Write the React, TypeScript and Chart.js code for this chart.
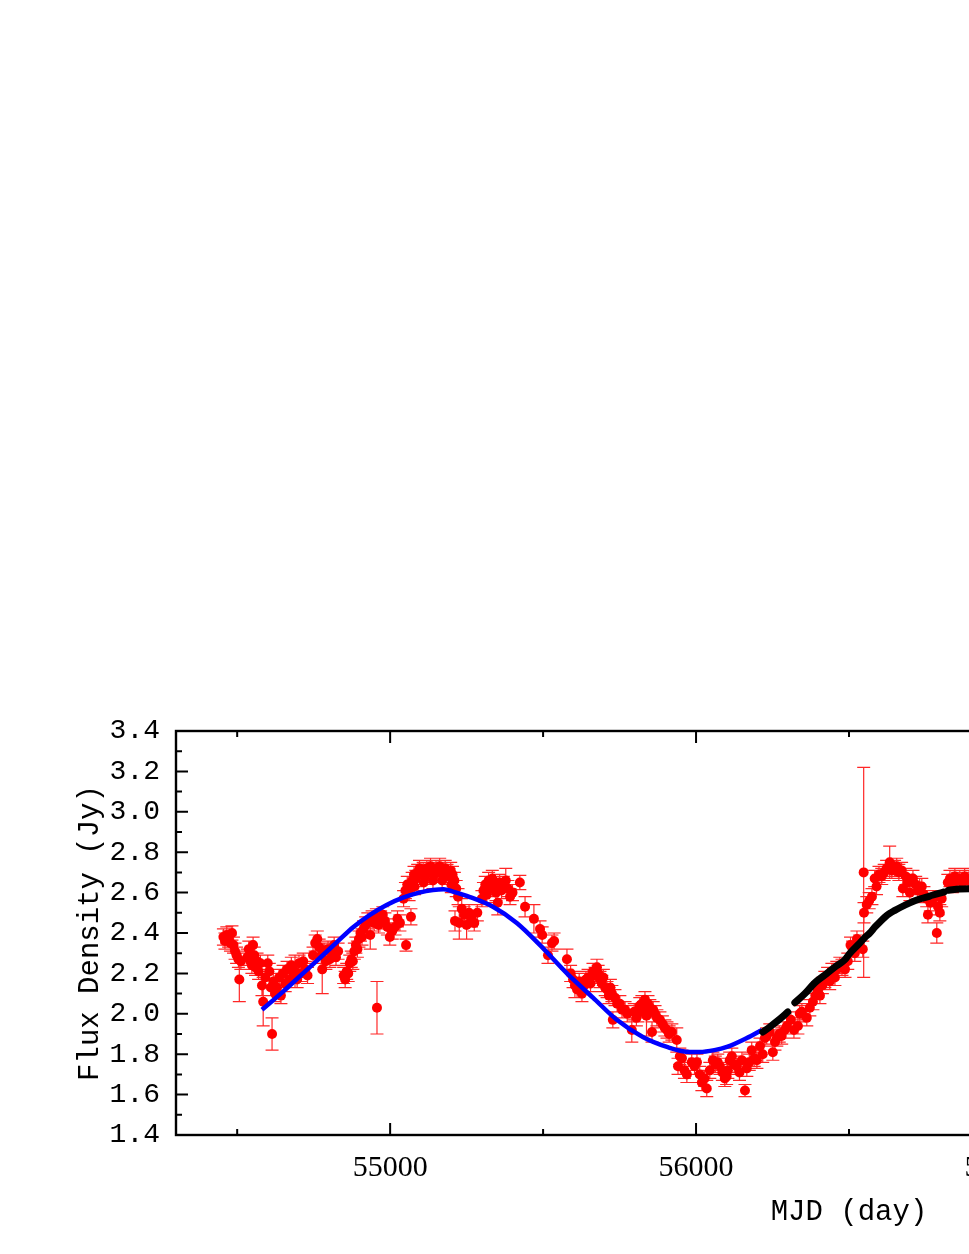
import { useEffect, useRef } from 'react';
import { Chart, registerables } from 'chart.js';

Chart.register(...registerables);

// ---------- data ----------
const xMajorTicks = [55000, 56000, 57000, 58000];
const xMinorTicks = [54500, 55500, 56500, 57500, 58500];
const yMajorTicks = [1.4, 1.6, 1.8, 2.0, 2.2, 2.4, 2.6, 2.8, 3.0, 3.2, 3.4];
const yMinorTicks = [1.5, 1.7, 1.9, 2.1, 2.3, 2.5, 2.7, 2.9, 3.1, 3.3];

// observed flux: [MJD, flux (Jy), error (Jy)]
const observed: [number, number, number][] = [
  [54455, 2.38, 0.04], [54460, 2.36, 0.04], [54466, 2.39, 0.04], [54472, 2.37, 0.04],
  [54478, 2.35, 0.04], [54483, 2.40, 0.035], [54488, 2.34, 0.04], [54493, 2.31, 0.04],
  [54498, 2.29, 0.04], [54504, 2.27, 0.04], [54507, 2.17, 0.11], [54512, 2.26, 0.04],
  [54533, 2.28, 0.04], [54538, 2.32, 0.04], [54543, 2.26, 0.04], [54548, 2.24, 0.04],
  [54552, 2.34, 0.04], [54556, 2.29, 0.04], [54560, 2.23, 0.04], [54565, 2.26, 0.04],
  [54570, 2.21, 0.04],
  [54576, 2.25, 0.04], [54581, 2.14, 0.05], [54585, 2.06, 0.12], [54592, 2.18, 0.04],
  [54600, 2.25, 0.04], [54605, 2.21, 0.04], [54610, 2.13, 0.04], [54614, 1.90, 0.08],
  [54618, 2.16, 0.04], [54624, 2.10, 0.04], [54630, 2.13, 0.04], [54637, 2.18, 0.04],
  [54643, 2.09, 0.04],
  [54650, 2.20, 0.04], [54657, 2.15, 0.04], [54663, 2.22, 0.04], [54670, 2.17, 0.04],
  [54677, 2.24, 0.04], [54684, 2.20, 0.04], [54689, 2.21, 0.08], [54696, 2.17, 0.04],
  [54702, 2.25, 0.04], [54709, 2.20, 0.04], [54716, 2.26, 0.04], [54723, 2.22, 0.04],
  [54730, 2.19, 0.04],
  [54748, 2.29, 0.04], [54755, 2.35, 0.04], [54762, 2.37, 0.04], [54768, 2.33, 0.04],
  [54775, 2.29, 0.04], [54778, 2.22, 0.12], [54784, 2.31, 0.04], [54790, 2.26, 0.04],
  [54797, 2.32, 0.04], [54803, 2.27, 0.04], [54810, 2.30, 0.04], [54817, 2.34, 0.04],
  [54823, 2.28, 0.04], [54830, 2.31, 0.04],
  [54848, 2.19, 0.04], [54853, 2.17, 0.04], [54858, 2.21, 0.04], [54863, 2.20, 0.04],
  [54868, 2.25, 0.04], [54873, 2.27, 0.04], [54878, 2.26, 0.04], [54883, 2.31, 0.04],
  [54888, 2.34, 0.04], [54893, 2.32, 0.04], [54898, 2.37, 0.04], [54903, 2.40, 0.04],
  [54908, 2.38, 0.04], [54913, 2.42, 0.04],
  [54920, 2.44, 0.04], [54927, 2.46, 0.04], [54935, 2.39, 0.07], [54941, 2.47, 0.04],
  [54948, 2.45, 0.04], [54955, 2.48, 0.04], [54957, 2.03, 0.13], [54962, 2.44, 0.04],
  [54969, 2.47, 0.04], [54976, 2.49, 0.04], [54983, 2.46, 0.04], [54991, 2.43, 0.04],
  [54999, 2.38, 0.04], [55007, 2.41, 0.04], [55016, 2.43, 0.04], [55024, 2.47, 0.04],
  [55032, 2.45, 0.04], [55052, 2.34, 0.03], [55068, 2.48, 0.04],
  [55044, 2.57, 0.04], [55050, 2.61, 0.04], [55056, 2.64, 0.04], [55062, 2.60, 0.04],
  [55072, 2.66, 0.04], [55078, 2.69, 0.04], [55080, 2.63, 0.04], [55084, 2.67, 0.04],
  [55090, 2.70, 0.04], [55096, 2.72, 0.04], [55102, 2.69, 0.04], [55108, 2.71, 0.04],
  [55110, 2.65, 0.04], [55114, 2.68, 0.04], [55120, 2.72, 0.04], [55126, 2.70, 0.04],
  [55132, 2.73, 0.04], [55138, 2.71, 0.04], [55140, 2.66, 0.04], [55144, 2.69, 0.04],
  [55150, 2.72, 0.04], [55156, 2.70, 0.04], [55162, 2.73, 0.04], [55168, 2.71, 0.04],
  [55170, 2.66, 0.04], [55174, 2.69, 0.04], [55180, 2.72, 0.04], [55186, 2.70, 0.04],
  [55192, 2.68, 0.04], [55198, 2.71, 0.04], [55200, 2.64, 0.04], [55204, 2.69, 0.04],
  [55210, 2.66, 0.04], [55216, 2.62, 0.04], [55222, 2.58, 0.04],
  [55212, 2.46, 0.05], [55226, 2.45, 0.08], [55234, 2.52, 0.05], [55242, 2.49, 0.04],
  [55250, 2.44, 0.07], [55258, 2.50, 0.04], [55266, 2.47, 0.04], [55275, 2.45, 0.04],
  [55285, 2.50, 0.04],
  [55300, 2.57, 0.04], [55305, 2.61, 0.04], [55311, 2.64, 0.04], [55316, 2.59, 0.04],
  [55322, 2.66, 0.04], [55328, 2.62, 0.04], [55334, 2.67, 0.04], [55340, 2.63, 0.04],
  [55346, 2.60, 0.04], [55352, 2.55, 0.06], [55358, 2.65, 0.04], [55364, 2.61, 0.04],
  [55370, 2.64, 0.04], [55378, 2.66, 0.06], [55385, 2.62, 0.04], [55392, 2.58, 0.04],
  [55400, 2.60, 0.04], [55424, 2.65, 0.035], [55441, 2.53, 0.05],
  [55470, 2.47, 0.07], [55490, 2.42, 0.04], [55497, 2.39, 0.04], [55516, 2.29, 0.04],
  [55529, 2.35, 0.04], [55536, 2.36, 0.04], [55578, 2.27, 0.05], [55590, 2.20, 0.04],
  [55598, 2.17, 0.04], [55604, 2.14, 0.06], [55611, 2.12, 0.04], [55618, 2.16, 0.04],
  [55627, 2.10, 0.04], [55634, 2.14, 0.04], [55640, 2.17, 0.04], [55647, 2.18, 0.04],
  [55655, 2.15, 0.04], [55663, 2.21, 0.04], [55670, 2.19, 0.04], [55676, 2.23, 0.04],
  [55680, 2.20, 0.04], [55686, 2.17, 0.04], [55692, 2.15, 0.04], [55697, 2.18, 0.04],
  [55703, 2.13, 0.04], [55709, 2.12, 0.04],
  [55715, 2.09, 0.04], [55720, 2.13, 0.04], [55725, 2.10, 0.04], [55728, 1.97, 0.04],
  [55735, 2.08, 0.04], [55742, 2.05, 0.04], [55751, 2.05, 0.04], [55758, 2.02, 0.04],
  [55768, 2.02, 0.04], [55775, 2.00, 0.04], [55790, 1.92, 0.06], [55798, 2.01, 0.04],
  [55805, 1.98, 0.04], [55810, 2.00, 0.04], [55816, 2.04, 0.04], [55823, 2.05, 0.04],
  [55828, 2.02, 0.04], [55833, 2.07, 0.04], [55838, 1.99, 0.10], [55843, 2.05, 0.04],
  [55849, 2.03, 0.04], [55856, 1.91, 0.05], [55860, 2.02, 0.04], [55866, 2.00, 0.04],
  [55872, 1.98, 0.04], [55882, 1.97, 0.04], [55890, 1.95, 0.04], [55898, 1.93, 0.04],
  [55905, 1.92, 0.04], [55912, 1.90, 0.04], [55921, 1.91, 0.04], [55937, 1.87, 0.06],
  [55941, 1.74, 0.04], [55947, 1.79, 0.04], [55954, 1.78, 0.04], [55962, 1.72, 0.04],
  [55970, 1.70, 0.04], [55986, 1.76, 0.04], [55995, 1.74, 0.04], [56003, 1.76, 0.04],
  [56012, 1.70, 0.04], [56019, 1.66, 0.04], [56028, 1.68, 0.04], [56035, 1.63, 0.04],
  [56045, 1.72, 0.04], [56055, 1.77, 0.04], [56063, 1.75, 0.04], [56071, 1.76, 0.04],
  [56078, 1.74, 0.04], [56086, 1.71, 0.04], [56094, 1.68, 0.04], [56100, 1.69, 0.04],
  [56104, 1.72, 0.04], [56110, 1.77, 0.04], [56117, 1.79, 0.04], [56125, 1.75, 0.04],
  [56133, 1.74, 0.04], [56142, 1.71, 0.04], [56150, 1.77, 0.04], [56160, 1.62, 0.03],
  [56166, 1.73, 0.04], [56174, 1.76, 0.04], [56182, 1.82, 0.04], [56190, 1.78, 0.04],
  [56199, 1.77, 0.04], [56209, 1.84, 0.04], [56218, 1.80, 0.04], [56225, 1.88, 0.04],
  [56231, 1.89, 0.04], [56241, 1.91, 0.04], [56251, 1.81, 0.04], [56258, 1.86, 0.04],
  [56264, 1.88, 0.04], [56272, 1.90, 0.04], [56280, 1.89, 0.04], [56290, 1.92, 0.04],
  [56297, 1.94, 0.04], [56310, 1.97, 0.04], [56320, 1.92, 0.04], [56333, 1.94, 0.04],
  [56339, 2.00, 0.04], [56346, 2.01, 0.04], [56362, 1.98, 0.04], [56372, 2.03, 0.04],
  [56382, 2.06, 0.04], [56390, 2.09, 0.04], [56398, 2.12, 0.04], [56405, 2.09, 0.04],
  [56413, 2.14, 0.04], [56421, 2.17, 0.04], [56430, 2.19, 0.04], [56437, 2.16, 0.04],
  [56444, 2.21, 0.04], [56454, 2.18, 0.04], [56460, 2.22, 0.04], [56470, 2.24, 0.04],
  [56477, 2.23, 0.04], [56487, 2.22, 0.04], [56496, 2.26, 0.04], [56505, 2.34, 0.04],
  [56512, 2.32, 0.04], [56519, 2.30, 0.04], [56526, 2.37, 0.04], [56535, 2.35, 0.04],
  [56545, 2.32, 0.04], [56548, 2.70, 0.52], [56549, 2.50, 0.05], [56558, 2.54, 0.04],
  [56566, 2.56, 0.04], [56575, 2.58, 0.04], [56584, 2.67, 0.04], [56590, 2.63, 0.04],
  [56598, 2.69, 0.04], [56607, 2.68, 0.04], [56615, 2.70, 0.04], [56623, 2.72, 0.04],
  [56633, 2.75, 0.08], [56640, 2.71, 0.04], [56649, 2.72, 0.04], [56656, 2.73, 0.04],
  [56663, 2.70, 0.04], [56672, 2.71, 0.04], [56676, 2.62, 0.04], [56686, 2.68, 0.04],
  [56692, 2.65, 0.04], [56699, 2.60, 0.04], [56709, 2.67, 0.04], [56718, 2.64, 0.04],
  [56725, 2.61, 0.04], [56731, 2.63, 0.04], [56738, 2.63, 0.04], [56745, 2.59, 0.04],
  [56754, 2.57, 0.04], [56758, 2.49, 0.04], [56766, 2.55, 0.04], [56775, 2.57, 0.04],
  [56787, 2.40, 0.05], [56791, 2.53, 0.04], [56797, 2.50, 0.04], [56803, 2.57, 0.04],
  [56823, 2.65, 0.04], [56830, 2.67, 0.04], [56838, 2.64, 0.04], [56846, 2.68, 0.04],
  [56855, 2.66, 0.04], [56862, 2.67, 0.04], [56870, 2.65, 0.04], [56878, 2.68, 0.04],
  [56886, 2.66, 0.04], [56893, 2.67, 0.04], [56902, 2.65, 0.04], [56910, 2.67, 0.04],
];

// sinusoidal fit (blue)
const fitMjd = [54581, 54650, 54715, 54780, 54826, 54880, 54934, 54990, 55042, 55095, 55140, 55175,
  55205, 55261, 55336, 55414, 55490, 55578, 55663, 55741, 55826, 55905, 55980, 56012, 56060, 56101,
  56166, 56215];
const fitFlux = [2.02, 2.11, 2.20, 2.29, 2.355, 2.43, 2.49, 2.54, 2.575, 2.60, 2.613, 2.617,
  2.605, 2.578, 2.53, 2.45, 2.34, 2.20, 2.08, 1.97, 1.885, 1.836, 1.811, 1.811, 1.82, 1.836,
  1.88, 1.92];

// model points (black); null marks a gap in the sequence
const modelMjd = [56218, 56241, 56274, 56300, 56310, 56323, 56356, 56388, 56421, 56454, 56486, 56503,
  56535, 56552, 56568, 56585, 56601, 56617, 56633, 56650, 56666, 56699, 56731, 56764, 56797, 56810,
  56818, 56825, 56862, 56910];
const modelFlux: (number | null)[] = [1.91, 1.935, 1.974, 2.009, null, 2.055, 2.10, 2.153, 2.192, 2.232,
  2.267, 2.30, 2.35, 2.378, 2.40, 2.43, 2.455, 2.478, 2.497, 2.512, 2.525, 2.549, 2.568, 2.583, 2.598,
  2.603, null, 2.612, 2.618, 2.62];

// ---------- layout ----------
const CANVAS_W = 1560;
const CANVAS_H = 1238;
const X_MIN = 54300;
const X_MAX = 58700;
const Y_MIN = 1.4;
const Y_MAX = 3.4;
const RED_INDEX = 2;

const errorBarPlugin = {
  id: 'errorBars',
  beforeDatasetDraw(chart: any, args: any) {
    if (args.index !== RED_INDEX) return;
    const { ctx, scales } = chart;
    const xs = scales.x;
    const ys = scales.y;
    ctx.save();
    ctx.strokeStyle = 'rgba(255,0,0,0.85)';
    ctx.lineWidth = 1.2;
    ctx.beginPath();
    for (const [m, f, e] of observed) {
      const px = xs.getPixelForValue(m);
      const y1 = ys.getPixelForValue(f + e);
      const y2 = ys.getPixelForValue(f - e);
      ctx.moveTo(px, y1);
      ctx.lineTo(px, y2);
      ctx.moveTo(px - 6.5, y1);
      ctx.lineTo(px + 6.5, y1);
      ctx.moveTo(px - 6.5, y2);
      ctx.lineTo(px + 6.5, y2);
    }
    ctx.stroke();
    ctx.restore();
  },
};

const framePlugin = {
  id: 'frameTicks',
  afterDraw(chart: any) {
    const { ctx, chartArea, scales } = chart;
    const { left, right, top, bottom } = chartArea;
    const xs = scales.x;
    const ys = scales.y;
    ctx.save();
    ctx.strokeStyle = '#000';
    ctx.lineWidth = 2;
    ctx.beginPath();
    const xt = (vals: number[], len: number) => {
      for (const v of vals) {
        const p = xs.getPixelForValue(v);
        ctx.moveTo(p, bottom);
        ctx.lineTo(p, bottom - len);
        ctx.moveTo(p, top);
        ctx.lineTo(p, top + len);
      }
    };
    const yt = (vals: number[], len: number) => {
      for (const v of vals) {
        const p = ys.getPixelForValue(v);
        ctx.moveTo(left, p);
        ctx.lineTo(left + len, p);
        ctx.moveTo(right, p);
        ctx.lineTo(right - len, p);
      }
    };
    xt(xMajorTicks, 12);
    xt(xMinorTicks, 6);
    yt(yMajorTicks, 12);
    yt(yMinorTicks, 6);
    ctx.stroke();
    ctx.lineWidth = 2.4;
    ctx.strokeRect(left, top, right - left, bottom - top);
    ctx.restore();
  },
};

export default function App() {
  const ref = useRef<HTMLCanvasElement>(null);

  useEffect(() => {
    if (!ref.current) return;
    const chart = new Chart(ref.current, {
      type: 'scatter',
      data: {
        datasets: [
          {
            label: 'model',
            data: modelMjd.map((m, i) => ({ x: m, y: modelFlux[i] })) as any,
            showLine: true,
            borderColor: '#000000',
            backgroundColor: '#000000',
            borderWidth: 7,
            borderCapStyle: 'round',
            borderJoinStyle: 'round',
            pointRadius: 0,
            spanGaps: false,
            cubicInterpolationMode: 'monotone',
          },
          {
            label: 'fit',
            data: fitMjd.map((m, i) => ({ x: m, y: fitFlux[i] })),
            showLine: true,
            borderColor: '#0000ff',
            backgroundColor: '#0000ff',
            borderWidth: 4.5,
            pointRadius: 0,
            cubicInterpolationMode: 'monotone',
          },
          {
            label: 'observed',
            data: observed.map(([m, f]) => ({ x: m, y: f })),
            showLine: false,
            pointRadius: 5,
            pointBackgroundColor: '#ff0000',
            pointBorderColor: '#ff0000',
            pointBorderWidth: 0,
          },
        ],
      },
      options: {
        responsive: false,
        animation: false,
        devicePixelRatio: 1,
        layout: { padding: { top: 723, left: 0, right: 46, bottom: 0 } },
        plugins: {
          legend: { display: false },
          tooltip: { enabled: false },
        },
        scales: {
          x: {
            type: 'linear',
            min: X_MIN,
            max: X_MAX,
            grid: { display: false, drawTicks: false },
            border: { display: false },
            afterBuildTicks: (s: any) => {
              s.ticks = xMajorTicks.map((v) => ({ value: v }));
            },
            afterFit: (s: any) => {
              s.height = CANVAS_H - 1127;
            },
            ticks: {
              color: '#000',
              padding: 15,
              maxRotation: 0,
              autoSkip: false,
              font: { family: 'Liberation Serif', size: 30 },
              callback: (v: any) => String(v),
            },
            title: {
              display: true,
              text: 'MJD (day)',
              color: '#000',
              font: { family: 'Liberation Mono', size: 29 },
              padding: { top: 0, bottom: 16 },
            },
          },
          y: {
            type: 'linear',
            min: Y_MIN,
            max: Y_MAX,
            grid: { display: false, drawTicks: false },
            border: { display: false },
            afterBuildTicks: (s: any) => {
              s.ticks = yMajorTicks.map((v) => ({ value: v }));
            },
            afterFit: (s: any) => {
              s.width = 168;
            },
            ticks: {
              color: '#000',
              padding: 16,
              autoSkip: false,
              font: { family: 'Liberation Mono', size: 28 },
              callback: (v: any) => Number(v).toFixed(1),
            },
            title: {
              display: true,
              text: 'Flux Density (Jy)',
              color: '#000',
              font: { family: 'Liberation Mono', size: 29 },
              padding: { top: 65, bottom: 0 },
            },
          },
        },
      },
      plugins: [errorBarPlugin, framePlugin],
    });
    return () => {
      chart.destroy();
    };
  }, []);

  return (
    <div
      style={{
        position: 'fixed',
        left: 8,
        top: 8,
        width: 961,
        height: 1238,
        overflow: 'hidden',
        background: '#fff',
      }}
    >
      <canvas
        ref={ref}
        width={CANVAS_W}
        height={CANVAS_H}
        style={{ display: 'block', width: CANVAS_W, height: CANVAS_H }}
      />
    </div>
  );
}
